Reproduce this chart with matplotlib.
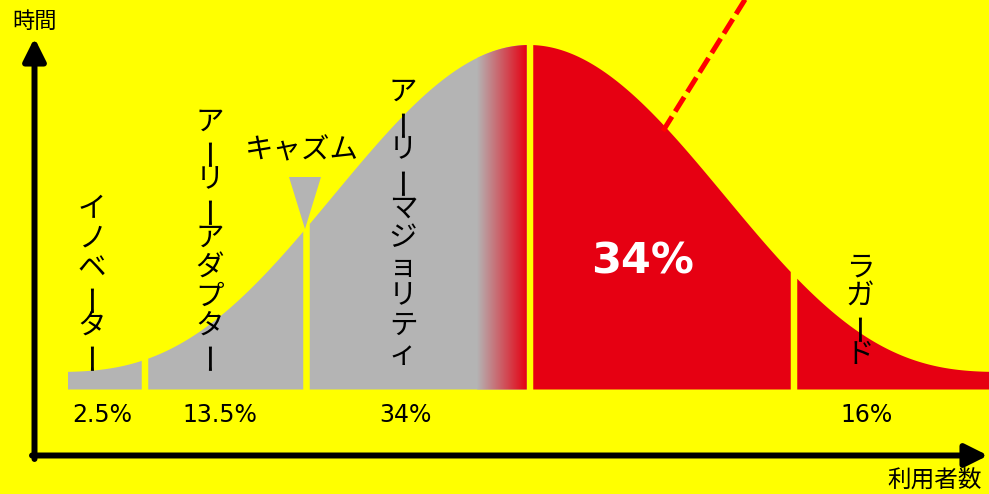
import numpy as np
import matplotlib
matplotlib.use("Agg")
import matplotlib.pyplot as plt
from matplotlib.patches import Polygon

plt.rcParams["font.family"] = ["Noto Sans CJK JP", "DejaVu Sans"]

# adopter groups, left to right (late majority carries the big label instead of a name)
group_names = ["イノベーター", "アーリーアダプター", "アーリーマジョリティ", None, "ラガード"]
shares = [2.5, 13.5, 34, 34, 16]
share_labels = [f"{s:g}%" for s in shares]
highlight = 3  # group drawn in red with the large label

# layout in pixel-like units (x right, y down)
edges = [68, 145, 306.5, 530, 794, 989]
share_x = [102, 220, 405, 642, 867]
name_x = [92, 210, 403, None, 860]
GAP = 6.5
BASELINE = 389.5
FLOOR = 372.0
PEAK_Y = 45.0
CENTER = 529.0
HALF_W = 480.0
SHARPNESS = 1.4

YELLOW = "#ffff00"
GREY = "#b4b4b4"
RED = "#e60012"


def bell(x):
    # smooth bell: raised cosine sharpened by a power, flat floor at the ends
    x = np.asarray(x, dtype=float)
    t = np.clip((x - CENTER) / HALF_W, -1, 1)
    r = (0.5 * (1 + np.cos(np.pi * t))) ** SHARPNESS
    return FLOOR - (FLOOR - PEAK_Y) * r


def segment_patch(x0, x1, color):
    xs = np.linspace(x0, x1, 200)
    verts = np.column_stack([xs, bell(xs)])
    verts = np.vstack([verts, [[x1, BASELINE], [x0, BASELINE]]])
    patch = Polygon(verts, closed=True, fc=color, ec="none", zorder=1)
    ax.add_patch(patch)
    return patch


fig = plt.figure(figsize=(9.89, 4.94), dpi=100, facecolor=YELLOW)
ax = fig.add_axes([0, 0, 1, 1])
ax.set_facecolor(YELLOW)

n = len(shares)
for i in range(n):
    x0 = edges[i] + (GAP / 2 if i > 0 else 0)
    x1 = edges[i + 1] - (GAP / 2 if i < n - 1 else 0)
    color = RED if i >= highlight else GREY
    patch = segment_patch(x0, x1, color)

    # early majority fades into the red of the next group
    if i == highlight - 1:
        ramp = np.linspace(0, 1, 256)[:, None]
        g = np.array(matplotlib.colors.to_rgb(GREY))
        r = np.array(matplotlib.colors.to_rgb(RED))
        grad = (g * (1 - ramp) + r * ramp)[None, :, :]
        im = ax.imshow(grad, extent=(477, x1, BASELINE, 30), aspect="auto",
                       interpolation="bilinear", zorder=1.5)
        im.set_clip_path(patch)

    if i == highlight:
        ax.text(share_x[i], 273, share_labels[i], color="white", fontsize=31,
                fontweight="bold", family="DejaVu Sans", ha="center", va="baseline", zorder=5)
    else:
        ax.text(share_x[i], 422, share_labels[i], color="black", fontsize=17,
                family="DejaVu Sans", ha="center", va="baseline", zorder=5)

    # names are set vertically, one glyph per step
    name = group_names[i]
    if name:
        step = 29.2
        top = 355 - (len(name) - 1) * step
        for k, ch in enumerate(name):
            y = top + k * step
            if ch == "ー":
                ax.text(name_x[i] + 1, y, ch, fontsize=22, rotation=90,
                        rotation_mode="anchor", ha="center", va="center", zorder=5)
            else:
                ax.text(name_x[i], y, ch, fontsize=20.5,
                        ha="center", va="center", zorder=5)

# chasm marker
ax.add_patch(Polygon([[289, 177], [321, 177], [305, 229]], closed=True,
                     fc=GREY, ec="none", zorder=2))
ax.text(302, 150, "キャズム", fontsize=20.5, ha="center", va="center", zorder=5)

# dashed line rising from the red area
ax.plot([663, 751], [131, -10], color="#ff0000", lw=3.6, dashes=(3.4, 1.2),
        dash_capstyle="butt", zorder=4)

# axes arrows
arrow = dict(arrowstyle="-|>", lw=4.3, color="black", mutation_scale=34,
             shrinkA=0, shrinkB=0)
ax.annotate("", xy=(34.5, 38), xytext=(34.5, 459), arrowprops=arrow, zorder=6)
ax.annotate("", xy=(988, 455.5), xytext=(32, 455.5), arrowprops=arrow, zorder=6)
ax.text(35, 21, "時間", fontsize=16, ha="center", va="center")
ax.text(935, 481, "利用者数", fontsize=17, ha="center", va="center")

ax.set_xlim(0, 989)
ax.set_ylim(494, 0)
ax.axis("off")

fig.savefig("out.png", dpi=100, facecolor=YELLOW)
